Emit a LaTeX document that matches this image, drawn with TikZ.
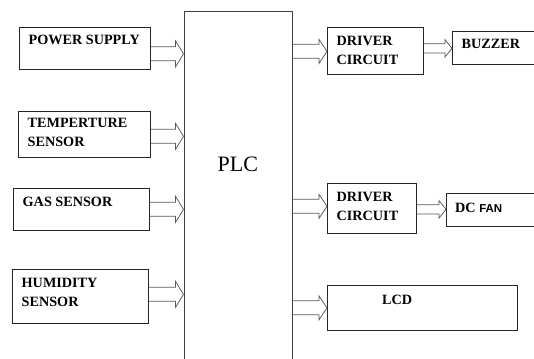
\documentclass[tikz,border=0pt]{standalone}
\usepackage{fontspec}
\setmainfont{Liberation Serif}
\newfontfamily\fansans{Liberation Sans}
\usetikzlibrary{calc}

\newcommand{\blockfont}{\fontsize{14.2}{19}\selectfont\bfseries}
\newcommand{\plcfont}{\fontsize{22}{26}\selectfont}

% hollow block arrow: from, to, shaft half width, head half width, head length
\newcommand{\blockarrow}[5]{%
  \draw[hollow] let \p1=(#1), \p2=(#2) in
    (\x1,\y1+#3) -- (\x2-#5,\y1+#3) -- (\x2-#5,\y1+#4) -- (\x2,\y1)
    -- (\x2-#5,\y1-#4) -- (\x2-#5,\y1-#3) -- (\x1,\y1-#3);}

\tikzset{
  block/.style={draw=black!85, line width=0.7pt, anchor=north west, inner sep=0pt},
  blocktext/.style={anchor=north west, inner xsep=9.5pt, inner ysep=8pt, align=left, font=\blockfont},
  hollow/.style={draw=black!65, line width=0.75pt},
}

\begin{document}
\begin{tikzpicture}[x=1pt, y=-1pt]

    \clip (0,0) rectangle (534,358);

    % 1. The controller in the middle
    \node[block, draw=black!75, minimum width=108pt, minimum height=360pt,
          label={[font=\plcfont, anchor=center, yshift=-153pt]north:PLC}] (plc) at (183.5,11) {};

    % 2. Input blocks
    \node[block, minimum width=131pt, minimum height=42pt,
          label={[blocktext]north west:POWER SUPPLY}] (power) at (19,27) {};
    \node[block, minimum width=132pt, minimum height=46pt,
          label={[blocktext, inner ysep=7pt]north west:TEMPERTURE\\SENSOR}] (temp) at (18,111) {};
    \node[block, minimum width=136pt, minimum height=42pt,
          label={[blocktext, inner ysep=9pt]north west:GAS SENSOR}] (gas) at (13,188) {};
    \node[block, minimum width=136pt, minimum height=54pt,
          label={[blocktext, inner ysep=9pt]north west:HUMIDITY\\SENSOR}] (hum) at (12,269) {};

    % 3. Output blocks
    \node[block, minimum width=96pt, minimum height=47pt,
          label={[blocktext, inner ysep=9pt]north west:DRIVER\\CIRCUIT}] (drvA) at (327,27) {};
    \node[block, minimum width=100pt, minimum height=33pt,
          label={[blocktext]north west:BUZZER}] (buzzer) at (452,31) {};
    \node[block, minimum width=89pt, minimum height=50pt,
          label={[blocktext, inner ysep=9.5pt]north west:DRIVER\\CIRCUIT}] (drvB) at (327,183) {};
    \node[block, minimum width=100pt, minimum height=33pt,
          label={[blocktext, inner ysep=9.5pt, inner xsep=9pt]north west:DC {\fansans\fontsize{11.5}{14}\selectfont FAN}}] (fan) at (446,193) {};
    \node[block, minimum width=190pt, minimum height=45pt,
          label={[blocktext, inner ysep=10pt, xshift=45.5pt]north west:LCD}] (lcd) at (327,285) {};

    % 4. Arrows into the PLC
    \foreach \src/\dy in {power/5.5, temp/2, gas/0, hum/-2} {
        \blockarrow{$(\src.east)+(0,\dy)$}{plc.west}{7pt}{13pt}{8pt}
    }

    % 5. Arrows out of the PLC and to the loads
    \blockarrow{$(plc.east |- drvA.west)+(0,0.5)$}{drvA.west}{7pt}{12pt}{8pt}
    \blockarrow{$(plc.east |- drvB.west)+(0,-2)$}{drvB.west}{7pt}{12pt}{8pt}
    \blockarrow{plc.east |- lcd.west}{lcd.west}{7pt}{12pt}{8pt}
    \blockarrow{$(drvA.east |- buzzer.west)+(0,0.5)$}{buzzer.west}{4.7pt}{8.7pt}{7pt}
    \blockarrow{$(drvB.east |- fan.west)+(0,-0.5)$}{fan.west}{4.7pt}{8.7pt}{7pt}

\end{tikzpicture}
\end{document}
